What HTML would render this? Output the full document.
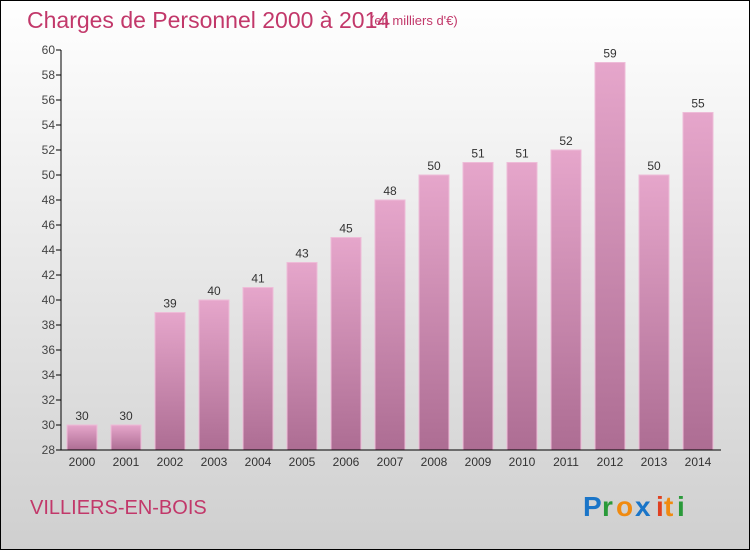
<!DOCTYPE html>
<html><head><meta charset="utf-8"><style>
body{margin:0}
#c{width:750px;height:550px;position:relative;overflow:hidden}
text{font-family:"Liberation Sans",sans-serif}
</style></head><body>
<div id="c">
<svg id="s" width="750" height="550" xmlns="http://www.w3.org/2000/svg">
<defs>
<linearGradient id="bg" x1="0" y1="0" x2="0" y2="1"><stop offset="0" stop-color="#ffffff"/><stop offset="1" stop-color="#cfcfcf"/></linearGradient>
<linearGradient id="bar" x1="0" y1="0" x2="0" y2="1"><stop offset="0" stop-color="#e6a6cb"/><stop offset="1" stop-color="#ad6d93"/></linearGradient>
</defs>
<rect x="0.5" y="0.5" width="749" height="549" fill="url(#bg)" stroke="#000"/>
<text x="27" y="28" font-size="23" fill="#c2386a">Charges de Personnel 2000 à 2014</text>
<text x="370" y="25" font-size="13" fill="#c2386a">(en milliers d'€)</text>
<g id="plot"></g>
<text x="30" y="514" font-size="20" fill="#c2386a">VILLIERS-EN-BOIS</text>
<g font-size="28" font-weight="bold">
<text x="583" y="516" fill="#1a75c8">P</text><text x="602" y="516" fill="#2a9a3a">r</text><text x="616" y="516" fill="#f08a10">o</text><text x="635" y="516" fill="#1a75c8">x</text><text x="656" y="516" fill="#e04020">i</text><text x="664" y="516" fill="#f08a10">t</text><text x="677" y="516" fill="#2a9a3a">i</text>
</g>
</svg>
</div>
<script>
const years=["2000","2001","2002","2003","2004","2005","2006","2007","2008","2009","2010","2011","2012","2013","2014"];
const values=[30,30,39,40,41,43,45,48,50,51,51,52,59,50,55];
const yTicks=[28,30,32,34,36,38,40,42,44,46,48,50,52,54,56,58,60];
const NS="http://www.w3.org/2000/svg";
const g=document.getElementById('plot');
const y0=450,y1=50,vmin=28,vmax=60;
const yS=v=>y0-(v-vmin)*(y0-y1)/(vmax-vmin);
const xS=i=>82+i*44;
function mk(t,a){const e=document.createElementNS(NS,t);for(const k in a)e.setAttribute(k,a[k]);g.appendChild(e);return e;}
yTicks.forEach(v=>{
 const l=mk('line',{x1:56,x2:61,y1:yS(v),y2:yS(v),stroke:'#000'});
 
 
 const t=mk('text',{x:55,y:yS(v)+4,'font-size':12,'text-anchor':'end',fill:'#444'});
 t.textContent=v;
 
 
});
values.forEach((v,i)=>{
 const r=mk('rect',{x:xS(i)-15,y:yS(v),width:30,height:y0-yS(v),fill:'url(#bar)',stroke:'#eebcd8','stroke-width':1});
 
 
 const t=mk('text',{x:xS(i),y:yS(v)-5,'font-size':12,'text-anchor':'middle',fill:'#333'});
 t.textContent=v;
 
 
 const x=mk('text',{x:xS(i),y:466,'font-size':12,'text-anchor':'middle',fill:'#333'});
 x.textContent=years[i];
 
 
});
const ya=mk('line',{x1:61,x2:61,y1:50,y2:450,stroke:'#000'});


const xa=mk('line',{x1:61,x2:721,y1:450,y2:450,stroke:'#000'});


</script>
</body></html>
